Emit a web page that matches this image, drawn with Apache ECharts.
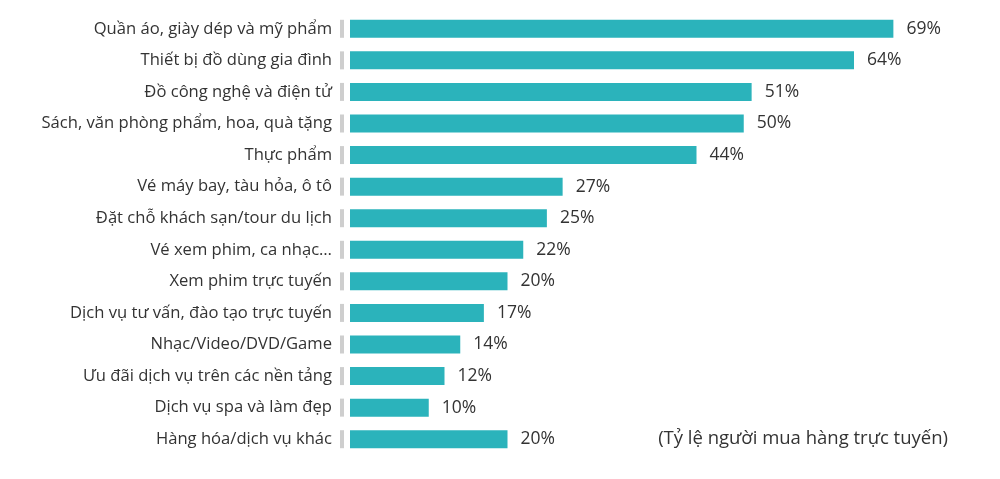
<!DOCTYPE html>
<html>
<head>
<meta charset="utf-8">
<script src="https://cdn.jsdelivr.net/npm/echarts@6/dist/echarts.min.js"></script>
<style>
  html, body { margin: 0; padding: 0; background: #fff; }
  #chart { width: 1000px; height: 479px; }
</style>
</head>
<body>
<div id="chart"></div>
<script>
const categories = [
  'Quần áo, giày dép và mỹ phẩm',
  'Thiết bị đồ dùng gia đình',
  'Đồ công nghệ và điện tử',
  'Sách, văn phòng phẩm, hoa, quà tặng',
  'Thực phẩm',
  'Vé máy bay, tàu hỏa, ô tô',
  'Đặt chỗ khách sạn/tour du lịch',
  'Vé xem phim, ca nhạc…',
  'Xem phim trực tuyến',
  'Dịch vụ tư vấn, đào tạo trực tuyến',
  'Nhạc/Video/DVD/Game',
  'Ưu đãi dịch vụ trên các nền tảng',
  'Dịch vụ spa và làm đẹp',
  'Hàng hóa/dịch vụ khác'
];
const shares = [69, 64, 51, 50, 44, 27, 25, 22, 20, 17, 14, 12, 10, 20];
const note = '(Tỷ lệ người mua hàng trực tuyến)';

const font = '"Open Sans", "Noto Sans", sans-serif';
const chart = echarts.init(document.getElementById('chart'));

chart.setOption({
  animation: false,
  grid: { left: 350, top: 13, width: 630, height: 442 },
  xAxis: { type: 'value', min: 0, max: 80, show: false },
  yAxis: {
    type: 'category',
    data: categories,
    inverse: true,
    axisLine: { show: false },
    axisTick: { show: false },
    axisLabel: { margin: 18, color: '#333', fontSize: 16.6, fontFamily: font }
  },
  graphic: [{
    type: 'text',
    right: 52,
    top: 429,
    style: { text: note, fill: '#333', fontSize: 18.5, fontFamily: font }
  }],
  series: [
    {
      type: 'bar',
      data: shares,
      barWidth: 18,
      itemStyle: { color: '#2bb3bb' },
      label: {
        show: true,
        position: 'right',
        distance: 13,
        formatter: '{c}%',
        color: '#333',
        fontSize: 17.5,
        fontFamily: font
      }
    },
    {
      // small grey marker between label and bar
      type: 'scatter',
      data: shares.map(() => 0),
      symbol: 'rect',
      symbolSize: [4, 18],
      symbolOffset: [-8, 0],
      itemStyle: { color: '#c2c2c2' },
      silent: true
    }
  ]
});
</script>
</body>
</html>
